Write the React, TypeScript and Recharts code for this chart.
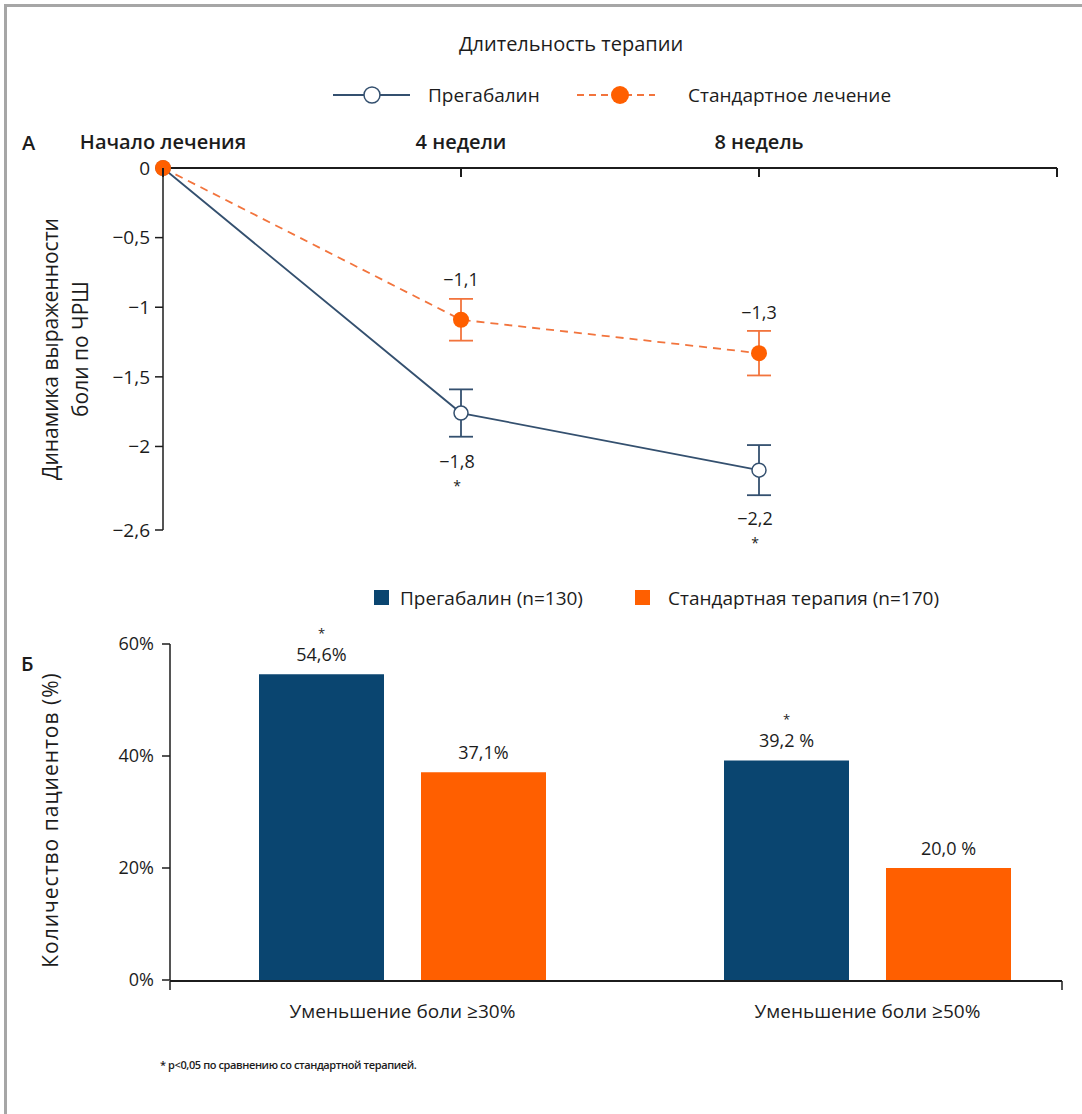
import React from 'react'
import { LineChart, Line, XAxis, YAxis, ErrorBar, LabelList, BarChart, Bar } from 'recharts'

// panel A: change in pain score by week
const weeks = [0, 4, 8]
const weekTicks = [0, 4, 8, 12]
const weekTickLabels = ['Начало лечения', '4 недели', '8 недель', '']
const pregabalinChange = [0, -1.76, -2.17]
const pregabalinErr = [0, 0.17, 0.18]
const pregabalinSig = [false, true, true]
const standardChange = [0, -1.09, -1.33]
const standardErr = [0, 0.15, 0.16]
const painTicks = [0, -0.5, -1, -1.5, -2, -2.6]

// panel B: responders
const outcomes = ['Уменьшение боли ≥30%', 'Уменьшение боли ≥50%']
const pregabalinPct = [54.6, 39.2]
const standardPct = [37.1, 20.0]
const pregabalinPctLabels = ['54,6%', '39,2 %']
const standardPctLabels = ['37,1%', '20,0 %']
const pregabalinPctSig = [true, true]
const pctTicks = [0, 20, 40, 60]

const FONT = "'Open Sans', sans-serif"
const INK = '#1c1c1c'
const NAVY = '#0a4570'
const ORANGE = '#ff5f00'
const LINE_BLUE = '#34506f'
const LINE_ORANGE = '#f2743d'

const lineData = weeks.map((w, i) => ({
  week: w,
  preg: pregabalinChange[i],
  pregErr: pregabalinErr[i],
  std: standardChange[i],
  stdErr: standardErr[i],
}))

const barData = outcomes.map((o, i) => ({
  outcome: o,
  preg: pregabalinPct[i],
  std: standardPct[i],
}))

const fmtTick = (v: number) => (v < 0 ? '−' : '') + String(Math.abs(v)).replace('.', ',')
const fmtVal = (v: number) => (v < 0 ? '−' : '') + Math.abs(v).toFixed(1).replace('.', ',')

function WeekTick({ x, y, payload }: any) {
  const i = weekTicks.indexOf(payload.value)
  return (
    <g>
      <line x1={x} x2={x} y1={y + 19} y2={y + 28} stroke={INK} strokeWidth={2} />
      <text x={x} y={y} textAnchor="middle" fontSize={20} fontWeight={600} fill={INK} fontFamily={FONT}>
        {weekTickLabels[i]}
      </text>
    </g>
  )
}

function AboveLabel({ x, y, value }: any) {
  if (!value) return null
  return (
    <text x={x} y={y - 34} textAnchor="middle" fontSize={18} fill={INK} fontFamily={FONT}>
      {fmtVal(value)}
    </text>
  )
}

function BelowLabel({ x, y, value, index }: any) {
  if (!value) return null
  return (
    <g fontFamily={FONT} fill={INK} textAnchor="middle">
      <text x={x - 4} y={y + 55} fontSize={18}>{fmtVal(value)}</text>
      {pregabalinSig[index] && <text x={x - 4} y={y + 78} fontSize={14}>*</text>}
    </g>
  )
}

function RotTitle({ viewBox, lines, xs, spacing, shift }: any) {
  const cy = viewBox.y + viewBox.height / 2 + (shift || 0)
  return (
    <g>
      {lines.map((l: string, i: number) => (
        <text key={i} x={xs[i]} y={cy} transform={`rotate(-90 ${xs[i]} ${cy})`} textAnchor="middle"
          dominantBaseline="central" fontSize={21} letterSpacing={spacing || 0} fill={INK} fontFamily={FONT}>
          {l}
        </text>
      ))}
    </g>
  )
}

function PainChart() {
  return (
    <LineChart width={1082} height={560} data={lineData} margin={{ top: 0, right: 25, bottom: 30, left: 0 }}>
      <XAxis dataKey="week" type="number" orientation="top" domain={[0, 12]} ticks={weekTicks}
        height={168} tickSize={0} tickMargin={19} tickLine={false} tick={<WeekTick />}
        axisLine={{ stroke: INK, strokeWidth: 2 }} />
      <YAxis type="number" domain={[-2.6, 0]} ticks={painTicks} width={163} tickSize={8} tickMargin={5}
        tickFormatter={fmtTick} axisLine={{ stroke: INK, strokeWidth: 1.5 }} tickLine={{ stroke: INK, strokeWidth: 1.5 }}
        tick={{ fontSize: 19, fill: INK, fontFamily: FONT }}
        label={{ content: (p: any) => <RotTitle viewBox={p.viewBox} lines={['Динамика выраженности', 'боли по ЧРШ']} xs={[50, 80]} /> }} />
      <Line dataKey="preg" stroke={LINE_BLUE} strokeWidth={1.8} isAnimationActive={false}
        dot={{ r: 7, fill: '#fff', stroke: LINE_BLUE, strokeWidth: 1.5 }}>
        <ErrorBar dataKey="pregErr" direction="y" width={12} stroke={LINE_BLUE} strokeWidth={1.8} />
        <LabelList dataKey="preg" content={<BelowLabel />} />
      </Line>
      <Line dataKey="std" stroke={LINE_ORANGE} strokeWidth={1.8} strokeDasharray="8 6" isAnimationActive={false}
        dot={{ r: 8, fill: ORANGE, stroke: ORANGE, strokeWidth: 0 }}>
        <ErrorBar dataKey="stdErr" direction="y" width={12} stroke={LINE_ORANGE} strokeWidth={1.8} />
        <LabelList dataKey="std" content={<AboveLabel />} />
      </Line>
    </LineChart>
  )
}

function OutcomeTick({ x, y, payload }: any) {
  return (
    <text x={x} y={y} textAnchor="middle" fontSize={19} fill={INK} fontFamily={FONT}>
      {payload.value}
    </text>
  )
}

function PctLabel({ x, y, width, index, labels, sig }: any) {
  const cx = x + width / 2
  return (
    <g fontFamily={FONT} fill={INK} textAnchor="middle">
      <text x={cx} y={y - 13} fontSize={18}>{labels[index]}</text>
      {sig && sig[index] && <text x={cx} y={y - 36} fontSize={13}>*</text>}
    </g>
  )
}

function ResponderChart() {
  return (
    <BarChart width={1082} height={520} data={barData} barSize={125} barGap={37}
      margin={{ top: 84, right: 20, bottom: 98, left: 0 }}>
      <XAxis xAxisId="grid" type="number" domain={[0, 2]} ticks={[0, 1, 2]} allowDataOverflow height={1}
        tick={() => <g />} tickSize={9} axisLine={{ stroke: INK, strokeWidth: 2 }} tickLine={{ stroke: INK, strokeWidth: 1.5 }} />
      <XAxis xAxisId="cat" dataKey="outcome" type="category" height={1} padding={{ left: 0, right: -38 }}
        axisLine={false} tickLine={false} tickSize={0} tickMargin={38} tick={<OutcomeTick />} interval={0} />
      <YAxis type="number" domain={[0, 60]} ticks={pctTicks} width={170} tickSize={8} tickMargin={8}
        tickFormatter={(v: number) => v + '%'} axisLine={{ stroke: INK, strokeWidth: 1.5 }}
        tickLine={{ stroke: INK, strokeWidth: 1.5 }} tick={{ fontSize: 18, fill: INK, fontFamily: FONT }}
        label={{ content: (p: any) => <RotTitle viewBox={p.viewBox} lines={['Количество пациентов (%)']} xs={[50]} spacing={1} shift={8} /> }} />
      <Bar xAxisId="cat" dataKey="preg" fill={NAVY} isAnimationActive={false}>
        <LabelList dataKey="preg" content={<PctLabel labels={pregabalinPctLabels} sig={pregabalinPctSig} />} />
      </Bar>
      <Bar xAxisId="cat" dataKey="std" fill={ORANGE} isAnimationActive={false}>
        <LabelList dataKey="std" content={<PctLabel labels={standardPctLabels} />} />
      </Bar>
    </BarChart>
  )
}

export default function App() {
  const txt = { fontFamily: FONT, fill: INK } as const
  return (
    <div style={{ position: 'absolute', left: 0, top: 0, width: 1082, height: 1114, overflow: 'hidden', background: '#fff' }}>
      <div style={{ position: 'absolute', left: 4, top: 4, width: 1200, height: 1200, border: '3px solid #a6a6a6' }} />
      <svg width={1082} height={1114} style={{ position: 'absolute', left: 0, top: 0 }}>
        <text x={571} y={43} textAnchor="middle" dominantBaseline="central" fontSize={20} {...txt}>Длительность терапии</text>
        <line x1={333} x2={410} y1={95} y2={95} stroke={LINE_BLUE} strokeWidth={1.8} />
        <circle cx={372} cy={95} r={8} fill="#fff" stroke={LINE_BLUE} strokeWidth={1.5} />
        <text x={428} y={95} dominantBaseline="central" fontSize={19} {...txt}>Прегабалин</text>
        <line x1={577} x2={655} y1={95} y2={95} stroke={LINE_ORANGE} strokeWidth={1.8} strokeDasharray="7 5" />
        <circle cx={620} cy={95} r={9} fill={ORANGE} />
        <text x={688} y={95} dominantBaseline="central" fontSize={19} {...txt}>Стандартное лечение</text>
        <text x={22} y={142} dominantBaseline="central" fontSize={20} fontWeight={600} {...txt}>А</text>
        <rect x={374} y={590} width={15} height={15} fill={NAVY} />
        <text x={400} y={598} dominantBaseline="central" fontSize={19} {...txt}>Прегабалин (n=130)</text>
        <rect x={635} y={590} width={15} height={15} fill={ORANGE} />
        <text x={668} y={598} dominantBaseline="central" fontSize={19} {...txt}>Стандартная терапия (n=170)</text>
        <text x={21} y={663} dominantBaseline="central" fontSize={20} fontWeight={600} {...txt}>Б</text>
        <text x={160} y={1064} dominantBaseline="central" fontSize={11} fontWeight={600} letterSpacing={-0.4} {...txt}>
          * p&lt;0,05 по сравнению со стандартной терапией.
        </text>
      </svg>
      <div style={{ position: 'absolute', left: 0, top: 0 }}>
        <PainChart />
      </div>
      <div style={{ position: 'absolute', left: 0, top: 560 }}>
        <ResponderChart />
      </div>
    </div>
  )
}
